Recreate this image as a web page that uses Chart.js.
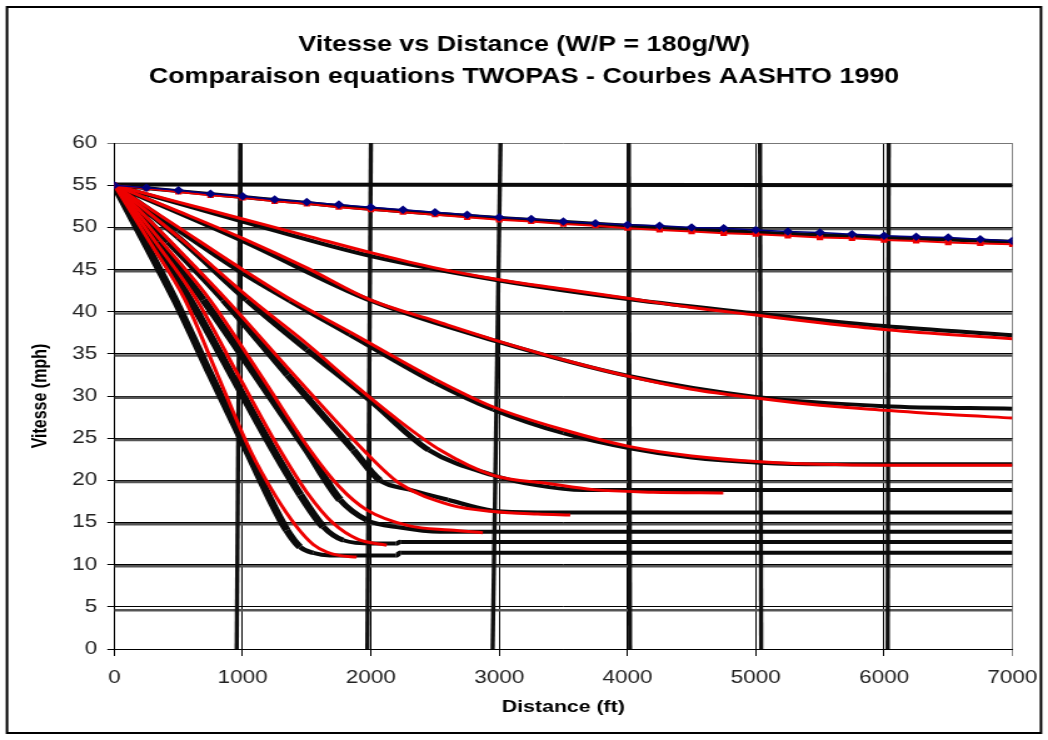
<!DOCTYPE html>
<html>
<head>
<meta charset="utf-8">
<title>Vitesse vs Distance</title>
<script src="https://cdn.jsdelivr.net/npm/chart.js@4.4.0/dist/chart.umd.min.js"></script>
<style>
    html, body { margin: 0; padding: 0; background: #fff; overflow: hidden; }
    /* the original picture is a horizontally stretched Excel export */
    #wrap { width: 838px; height: 740px; transform: scaleX(1.2506); transform-origin: 0 0; }
</style>
</head>
<body>
<div id="wrap"><canvas id="speedChart" width="838" height="740"></canvas></div>
<script>
// Axis ticks
const distanceTicks = [0, 1000, 2000, 3000, 4000, 5000, 6000, 7000];
const speedTicks = [0, 5, 10, 15, 20, 25, 30, 35, 40, 45, 50, 55, 60];

// TWOPAS equations, 1% grade (blue + red markers)
const dist1 = [0, 250, 500, 750, 1000, 1250, 1500, 1750, 2000, 2250, 2500, 2750, 3000, 3250, 3500, 3750, 4000, 4250, 4500, 4750, 5000, 5250, 5500, 5750, 6000, 6250, 6500, 6750, 7000];
const blue1 = [55.0, 54.7, 54.4, 54.0, 53.7, 53.3, 53.0, 52.7, 52.4, 52.1, 51.8, 51.5, 51.2, 51.0, 50.7, 50.5, 50.3, 50.2, 50.0, 49.9, 49.7, 49.5, 49.4, 49.2, 49.0, 48.9, 48.8, 48.6, 48.4];
const red1 = [55.0, 54.6, 54.2, 53.8, 53.5, 53.1, 52.8, 52.4, 52.1, 51.8, 51.5, 51.2, 50.9, 50.7, 50.4, 50.2, 49.9, 49.7, 49.5, 49.3, 49.2, 49.0, 48.8, 48.7, 48.5, 48.4, 48.2, 48.1, 48.0];

// TWOPAS equations (red), grades 2% .. 9%
const redDist2 = [0, 500, 1000, 1500, 2000, 2500, 3000, 3500, 4000, 4500, 5000, 5500, 6000, 6500, 7000];
const red2 = [55, 53.0, 51.0, 49.0, 47.0, 45.2, 43.8, 42.7, 41.6, 40.5, 39.6, 38.7, 37.9, 37.3, 36.8];
const redDist3 = [0, 500, 1000, 1500, 1996, 2500, 2954, 3500, 4019, 4500, 5033, 5500, 6020, 6500, 7000];
const red3 = [55, 51.9, 48.7, 45.2, 41.4, 38.9, 36.7, 34.3, 32.3, 30.8, 29.7, 28.9, 28.3, 27.8, 27.4];
const redDist4 = [0, 500, 1000, 1369, 1836, 2500, 2954, 3500, 4019, 4500, 5033, 5500, 6020, 7000];
const red4 = [55, 50.0, 45.0, 41.5, 37.6, 32.0, 28.7, 26.0, 24.0, 22.9, 22.2, 21.9, 21.8, 21.8];
const redDist5 = [0, 530, 1071, 1500, 1836, 2200, 2539, 2954, 3396, 3733, 4200, 4747];
const red5 = [55, 48.5, 41.4, 36.2, 31.8, 27.3, 23.6, 20.6, 19.6, 18.9, 18.6, 18.5];
const redDist6 = [0, 440, 876, 1400, 1941, 2227, 2616, 2954, 3300, 3554];
const red6 = [55, 48.3, 41.4, 32.5, 23.6, 19.6, 17.1, 16.3, 16.0, 15.9];
const redDist7 = [0, 370, 746, 1140, 1525, 1750, 1967, 2300, 2616, 2873];
const red7 = [55, 48.3, 41.4, 32.5, 23.6, 19.3, 16.5, 14.6, 14.1, 13.8];
const redDist8 = [0, 320, 642, 965, 1291, 1500, 1707, 1900, 2123];
const red8 = [55, 48.3, 41.4, 32.5, 23.6, 18.6, 14.9, 13.0, 12.3];
const redDist9 = [0, 275, 551, 805, 1058, 1250, 1421, 1550, 1655, 1750, 1889];
const red9 = [55, 48.3, 41.4, 32.5, 23.6, 18.3, 14.5, 12.4, 11.5, 11.1, 10.9];

// AASHTO 1990 curves (scanned, black), grades 1% .. 9%
const aashtoDist1 = [0, 1000, 2000, 3000, 4000, 5000, 6000, 7000];
const aashto1 = [55, 53.6, 52.2, 51.1, 50.2, 49.4, 48.8, 48.3];
const aashtoDist2 = [0, 1000, 2000, 3000, 4000, 5000, 6000, 7000];
const aashto2 = [55, 50.7, 46.6, 43.7, 41.5, 39.8, 38.3, 37.2];
const aashtoDist3 = [0, 1000, 2000, 3000, 4000, 5000, 6000, 7000];
const aashto3 = [55, 48.4, 41.3, 36.4, 32.4, 29.9, 28.8, 28.5];
const aashtoDist4 = [0, 500, 1000, 1369, 1836, 2500, 2954, 3500, 4019, 4500, 5033, 5500, 7000];
const aashto4 = [55, 49.7, 44.6, 41.3, 37.3, 31.6, 28.4, 25.6, 23.8, 22.7, 22.1, 21.9, 21.9];
const aashtoDist5 = [0, 500, 1032, 1500, 1993, 2450, 2954, 3300, 3655, 7000];
const aashto5 = [55, 48.8, 41.4, 35.5, 29.5, 23.6, 20.6, 19.4, 18.85, 18.85];
const aashtoDist6 = [0, 420, 850, 1350, 1863, 2071, 2300, 2600, 2954, 3300, 7000];
const aashto6 = [55, 48.3, 41.4, 32.5, 23.6, 20.0, 18.9, 17.7, 16.4, 16.2, 16.2];
const aashtoDist7 = [0, 345, 694, 1100, 1500, 1759, 1967, 2227, 2539, 7000];
const aashto7 = [55, 48.3, 41.4, 32.5, 23.6, 17.7, 15.3, 14.4, 13.9, 13.9];
const aashtoDist8 = [0, 295, 590, 915, 1239, 1450, 1629, 1785, 2019, 2196, 2230, 7000];
const aashto8 = [55, 48.3, 41.4, 32.5, 23.6, 18.3, 14.5, 12.9, 12.5, 12.5, 12.7, 12.7];
const aashtoDist9 = [0, 235, 473, 750, 1032, 1200, 1344, 1447, 1550, 1681, 2196, 2230, 7000];
const aashto9 = [55, 48.3, 41.4, 32.5, 23.6, 18.2, 14.1, 12.1, 11.4, 11.1, 11.1, 11.4, 11.4];

// Scanned AASHTO grid lines
const scanSpeedDist = [0, 7000];
const scanSpeed55 = [55.1, 55.0];
const scanRows = [49.8, 44.8, 39.8, 34.8, 29.8, 24.8, 19.8, 14.8, 9.8, 4.6];
const scanColBottom = [954, 1972, 2949, 4020, 5042, 6028];
const scanColTop = [982, 2000, 3010, 4010, 5033, 6036];

const pts = (xs, ys) => xs.map((x, i) => ({ x: x, y: ys[i] }));

const RED = '#ee0000';
const datasets = [];

// TWOPAS on top
datasets.push({
    data: pts(dist1, blue1), borderColor: '#000080', backgroundColor: '#000080',
    borderWidth: 1.5, pointStyle: 'rectRot', pointRadius: 3.2, order: 0
});
datasets.push({
    data: pts(dist1, red1), borderColor: RED, backgroundColor: RED,
    borderWidth: 2, pointStyle: 'rect', pointRadius: 2.3, order: 1
});
[[redDist2, red2], [redDist3, red3], [redDist4, red4], [redDist5, red5], [redDist6, red6],
 [redDist7, red7], [redDist8, red8], [redDist9, red9]].forEach(([xs, ys]) => {
    datasets.push({
        data: pts(xs, ys), borderColor: RED, borderWidth: 3, pointRadius: 0,
        cubicInterpolationMode: 'monotone', order: 1
    });
});

// AASHTO black curves, a bit thicker where steep (like the scanned pen)
const thickSegment = (ctx) => {
    const dx = Math.abs(ctx.p1.x - ctx.p0.x) || 0.01;
    const slope = Math.abs(ctx.p1.y - ctx.p0.y) / dx;
    return 4 + 2.5 * Math.min(1, Math.max(0, (slope - 0.3) / 1.5));
};
[[aashtoDist1, aashto1], [aashtoDist2, aashto2], [aashtoDist3, aashto3], [aashtoDist4, aashto4],
 [aashtoDist5, aashto5], [aashtoDist6, aashto6], [aashtoDist7, aashto7], [aashtoDist8, aashto8],
 [aashtoDist9, aashto9]].forEach(([xs, ys]) => {
    datasets.push({
        data: pts(xs, ys), borderColor: '#0a0a0a', borderWidth: 4, pointRadius: 0,
        cubicInterpolationMode: 'monotone', segment: { borderWidth: thickSegment }, order: 5
    });
});
datasets.push({
    data: pts(scanSpeedDist, scanSpeed55), borderColor: '#0a0a0a', borderWidth: 4, pointRadius: 0, order: 6
});

// Scanned grid
scanRows.forEach(v => {
    datasets.push({
        data: pts(scanSpeedDist, [v, v]), borderColor: '#555', borderWidth: 2.5, pointRadius: 0, order: 10
    });
});
scanColBottom.forEach((xb, i) => {
    datasets.push({
        data: [{ x: xb, y: 0 }, { x: scanColTop[i], y: 60 }],
        borderColor: '#111', borderWidth: 3.4, pointRadius: 0, order: 9
    });
});

const framePlugin = {
    id: 'frame',
    beforeDraw(chart) {
        const ctx = chart.ctx;
        ctx.save();
        ctx.fillStyle = '#fff';
        ctx.fillRect(0, 0, chart.width, chart.height);
        ctx.strokeStyle = '#000';
        ctx.lineWidth = 2;
        ctx.strokeRect(5.6, 7, 826.8, 726);
        ctx.restore();
    }
};

const FONT = "'Liberation Sans', Arial, sans-serif";

new Chart(document.getElementById('speedChart'), {
    type: 'scatter',
    data: { datasets: datasets },
    plugins: [framePlugin],
    options: {
        responsive: false,
        animation: false,
        devicePixelRatio: 1,
        showLine: true,
        layout: { padding: 0 },
        plugins: {
            legend: { display: false },
            tooltip: { enabled: false },
            title: {
                display: true,
                text: ['Vitesse vs Distance (W/P = 180g/W)', 'Comparaison equations TWOPAS - Courbes AASHTO 1990'],
                color: '#000',
                font: { family: FONT, size: 21.5, weight: 'bold', lineHeight: 1.49 },
                padding: { top: 29, bottom: 50 }
            }
        },
        scales: {
            x: {
                type: 'linear', min: 0, max: 7000,
                afterBuildTicks: s => { s.ticks = distanceTicks.map(v => ({ value: v })); },
                afterFit: s => { s.height = 91; s.paddingLeft = 0; s.paddingRight = 0; },
                grid: {
                    color: ctx => ctx.tick && ctx.tick.value === 7000 ? '#888' : '#000',
                    lineWidth: 1, tickLength: 7
                },
                border: { color: '#000', width: 1 },
                ticks: {
                    color: '#222', font: { family: FONT, size: 18 }, padding: 11, maxRotation: 0,
                    callback: v => String(v)
                },
                title: {
                    display: true, text: 'Distance (ft)', color: '#000',
                    font: { family: FONT, size: 17, weight: 'bold' }, padding: { top: 0, bottom: 22 }
                }
            },
            y: {
                type: 'linear', min: 0, max: 60,
                afterBuildTicks: s => { s.ticks = speedTicks.map(v => ({ value: v })); },
                afterFit: s => { s.width = 91.4; },
                grid: {
                    color: ctx => ctx.tick && ctx.tick.value === 60 ? '#777' : '#000',
                    lineWidth: 1, tickLength: 5.6
                },
                border: { color: '#000', width: 1 },
                ticks: { color: '#222', font: { family: FONT, size: 18 }, padding: 8 },
                title: {
                    display: true, text: 'Vitesse (mph)', color: '#000',
                    font: { family: FONT, size: 16, weight: 'bold' }, padding: { top: 23, bottom: 0 }
                }
            },
            // empty right margin, keeps the title centred on the whole picture
            yRight: {
                type: 'linear', position: 'right', min: 0, max: 60,
                afterFit: s => { s.width = 28.5; },
                grid: { display: false },
                border: { display: false },
                ticks: { display: false }
            }
        }
    }
});
</script>
</body>
</html>
